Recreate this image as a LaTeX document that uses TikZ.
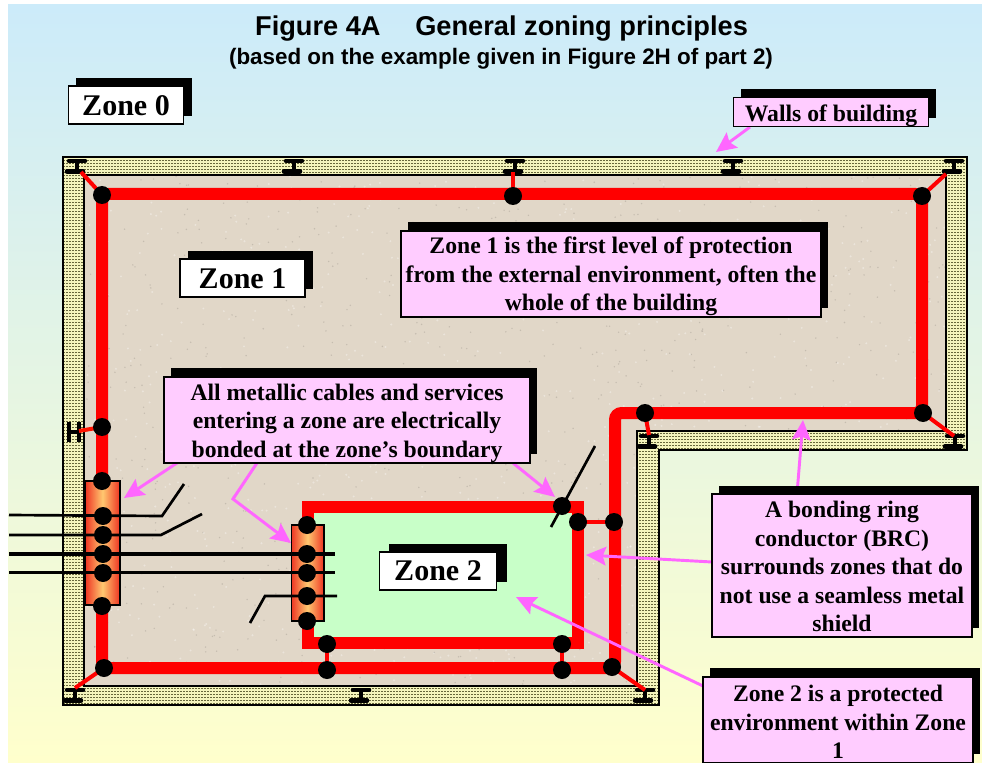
\documentclass[tikz,border=0pt]{standalone}
\usepackage{fontspec}
\setmainfont{Liberation Serif}
\setsansfont{Liberation Sans}
\usetikzlibrary{arrows.meta,shadows}
\definecolor{skytop}{HTML}{CCEBFA}
\definecolor{skybot}{HTML}{FFFFCC}
\definecolor{wallbase}{HTML}{F4F4BC}
\definecolor{walldot}{HTML}{66663A}
\definecolor{beige}{HTML}{E1D7C8}
\definecolor{zonegreen}{HTML}{C8FFC8}
\definecolor{labelpink}{HTML}{FFCCFF}
\definecolor{arrowpink}{HTML}{FF66FF}
\definecolor{barmid}{HTML}{FFC870}
\definecolor{barred}{HTML}{EE3322}
\newcommand\lstrut[1]{\rule{0pt}{#1pt}}
\tikzset{
  bond/.style={circle,fill=black,inner sep=0pt,minimum size=13.5pt},
  ring/.style={draw=red,line width=9pt,line join=miter},
  link/.style={draw=red,line width=3pt},
  cable/.style={draw=black,line width=2pt},
  barbox/.style={draw=black,line width=.8pt,left color=barred,right color=barred,middle color=barmid,inner sep=0pt},
  labelbox/.style={draw=black,line width=1.1pt,fill=labelpink,inner sep=0pt,align=center,
    font=\fontsize{17.75}{21.3}\selectfont\bfseries,
    general shadow={fill=black,shadow xshift=5.5pt,shadow yshift=6.5pt}},
  zonebox/.style={draw=black,line width=1.1pt,fill=white,inner sep=0pt,align=center,
    font=\fontsize{22.5}{26}\selectfont\bfseries},
  callout/.style={draw=arrowpink,line width=2.2pt,-{Stealth[length=15pt,width=14pt,inset=2.5pt]}},
  beam/.pic={
    \draw[black,line width=3.4pt,line cap=round] (-8,-5) -- (8,-5) (-10,5.5) -- (6,5.5);
    \draw[black,line width=3pt] (0,-5) -- (0,5.5);
  },
  sidebeam/.pic={
    \draw[black,line width=3.4pt] (-5,-10) -- (-5,10) (5,-10) -- (5,10);
    \draw[black,line width=3pt] (-5,0) -- (5,0);
  }
}
\begin{document}
\begin{tikzpicture}[x=0.75pt,y=-0.75pt]
\useasboundingbox (0,0) rectangle (982,763);
% background
\shade[top color=skytop,bottom color=skybot] (8,5) rectangle (982,763);
% walls
\def\outerwall{(63,157) -- (967,157) -- (967,450) -- (659,450) -- (659,705) -- (63,705) -- cycle}
\def\innerwall{(84,175) -- (946,175) -- (946,431) -- (637,431) -- (637,686) -- (84,686) -- cycle}
\fill[wallbase] \outerwall;
\begin{scope}
  \clip \outerwall;
  \foreach \r in {0,3,...,549}
    \draw[walldot,line width=.75pt,dash pattern=on 1.125pt off 1.125pt] (63,157.5+\r) -- (967,157.5+\r);
\end{scope}
\draw[black,line width=1.4pt] \outerwall;
\fill[beige] \innerwall;
\begin{scope}
  \clip \innerwall;
  \pgfmathsetseed{4242}
  \foreach \k in {1,...,1600} {
    \pgfmathsetmacro{\sx}{84+862*rnd}
    \pgfmathsetmacro{\sy}{175+511*rnd}
    \pgfmathsetmacro{\st}{rnd>0.5?1:0}
    \ifdim\st pt>0.5pt
      \fill[black!40!beige,opacity=.3] (\sx,\sy) circle (.6pt);
    \else
      \fill[white,opacity=.35] (\sx,\sy) circle (.8pt);
    \fi
  }
\end{scope}
\draw[black,line width=1.4pt] \innerwall;
% beams
\foreach \n/\x/\y in {b1/77/166,b2/294/166,b3/515/166,b4/733/166,b5/954/166,b6/649/441,b7/955/441,b8/75/695,b9/361/695,b10/645/695}
  \coordinate (\n) at (\x,\y);
\coordinate (b11) at (74,432);
\foreach \n in {b1,b2,b3,b4,b5,b6,b7,b8,b9,b10}
  \pic at (\n) {beam};
\pic at (b11) {sidebeam};
% bond positions
\foreach \n/\x/\y in {
  n1/102/195,n2/513/196,n3/922/196,n4/923/413,
  m1/102/427,m2/102/481,m3/103/516,m4/103/535,m5/103/554,m6/103/573,m7/102/606,n5/104/668,
  p1/307/525,p2/307/554,p3/307/573,p4/307/596,p5/307/621,
  q1/327/644,q2/327/670,q3/562/506,q4/578/522,q5/614/522,q6/562/644,q7/562/670,q8/612/667,q9/645/413}
  \coordinate (\n c) at (\x,\y);
% ring corners
\coordinate (r1) at (102,194);
\coordinate (r2) at (922,194);
\coordinate (r3) at (922,413);
\coordinate (r4) at (615,413);
\coordinate (r5) at (615,668);
\coordinate (r6) at (102,668);
\coordinate (z2tl) at (308,507);
\coordinate (z2tr) at (578,507);
\coordinate (z2br) at (578,643);
\coordinate (z2bl) at (308,643);
% zone 2
\fill[zonegreen] (z2tl) rectangle (z2br);
\draw[ring] (z2tl) -- (z2tr) -- (z2br) -- (z2bl) -- cycle;
% zone 1 ring
\draw[ring,rounded corners=5pt] (r1) -- (r2) -- (r3) -- (r4) -- (r5) -- (r6) -- cycle;
% bonding bars
\node[barbox,minimum width=26.2pt,minimum height=93pt] (bar1) at (102.5,543) {};
\node[barbox,minimum width=24.7pt,minimum height=72pt] (bar2) at (307.5,573) {};
% bonding links
\coordinate (t1) at (81,172);
\coordinate (t3) at (946,174);
\coordinate (t2) at (513,172);
\coordinate (t11) at (79,431);
\coordinate (t5) at (75,688);
\coordinate (t4) at (954,436);
\coordinate (t9) at (649,435);
\coordinate (t8) at (645,690);
\draw[link] (n1c) -- (t1);
\draw[link] (n3c) -- (t3);
\draw[link] (n2c) -- (t2);
\draw[draw=red!85!orange,line width=3pt] (m1c) -- (t11);
\draw[link] (n5c) -- (t5);
\draw[link] (n4c) -- (t4);
\draw[link] (q9c) -- (t9);
\draw[link] (q8c) -- (t8);
\draw[link] (q1c) -- (q2c);
\draw[link] (q6c) -- (q7c);
\draw[link] (q4c) -- (q5c);
% cable end points
\coordinate (c1a) at (9,515); \coordinate (c1b) at (162,516); \coordinate (c1c) at (184,484);
\coordinate (c2a) at (9,535); \coordinate (c2b) at (161,535); \coordinate (c2c) at (202,514);
\coordinate (c3a) at (9,554); \coordinate (c3b) at (335,554);
\coordinate (c4a) at (9,572.5); \coordinate (c4b) at (335,572.5);
\coordinate (c5a) at (250,623); \coordinate (c5b) at (265,596); \coordinate (c5c) at (337,596);
\coordinate (c6a) at (551,527); \coordinate (c6b) at (595,446);
% bonds
\foreach \n in {n1,n2,n3,n4,m1,m2,m3,m4,m5,m6,m7,n5,p1,p2,p3,p4,p5,q1,q2,q3,q4,q5,q6,q7,q8,q9}
  \node[bond] (\n) at (\n c) {};
% cables
\draw[cable] (c1a) -- (c1b) -- (c1c);
\draw[cable] (c2a) -- (c2b) -- (c2c);
\draw[cable,line width=2.8pt] (c3a) -- (c3b);
\draw[cable] (c4a) -- (c4b);
\draw[cable] (c5a) -- (c5b) -- (c5c);
\draw[cable] (c6a) -- (c6b);
% title
\node[font=\sffamily\bfseries\fontsize{20.4}{24}\selectfont] (title) at (501.5,28.5) {Figure 4A\hspace{1em} General zoning principles};
\node[font=\sffamily\bfseries\fontsize{16.8}{20}\selectfont] (subtitle) at (501,59) {(based on the example given in Figure 2H of part 2)};
% zone labels
\node[zonebox,minimum width=86.5pt,minimum height=28.5pt,general shadow={fill=black,shadow xshift=6pt,shadow yshift=6pt}] (zone0) at (126,105) {\lstrut{16}Zone 0};
\node[zonebox,minimum width=93.5pt,minimum height=28.5pt,general shadow={fill=black,shadow xshift=6pt,shadow yshift=6pt}] (zone1) at (242.5,278) {\lstrut{16}Zone 1};
\node[zonebox,minimum width=88pt,minimum height=28.5pt,general shadow={fill=black,shadow xshift=7.5pt,shadow yshift=6pt}] (zone2) at (438,571) {Zone 2};
% callout ends
\coordinate (swalls) at (750,127);
\coordinate (tipwalls) at (716,152);
\coordinate (sbar1) at (177,463);
\coordinate (tipbar1) at (124,498);
\coordinate (sbar2) at (257,463);
\coordinate (kink) at (233,499);
\coordinate (tipbar2) at (291,543);
\coordinate (sq3) at (513,463);
\coordinate (tipq3) at (555,497);
\coordinate (sring) at (797,494);
\coordinate (tipring) at (803,420);
\coordinate (sz2ring) at (712,562);
\coordinate (tipz2ring) at (586,555);
\coordinate (sz2) at (703,686);
\coordinate (tipz2) at (516,597);
\draw[callout] (swalls) -- (tipwalls);
\draw[callout] (sbar1) -- (tipbar1);
\draw[callout] (sbar2) -- (kink) -- (tipbar2);
\draw[callout] (sq3) -- (tipq3);
\draw[callout] (sring) -- (tipring);
\draw[callout] (sz2ring) -- (tipz2ring);
\draw[callout] (sz2) -- (tipz2);
% label boxes
\node[labelbox,minimum width=146.5pt,minimum height=22pt] (walls) at (831,112) {\lstrut{17.5}Walls of building};
\node[labelbox,minimum width=315pt,minimum height=64.5pt] (z1text) at (611,274)
  {\lstrut{16.5}Zone 1 is the first level of protection\\from the external environment, often the\\whole of the building};
\node[labelbox,minimum width=274.5pt,minimum height=64.5pt] (all) at (347,420)
  {\lstrut{17}All metallic cables and services\\entering a zone are electrically\\bonded at the zone’s boundary};
\node[labelbox,minimum width=195pt,minimum height=107pt] (brc) at (842,565.5)
  {\lstrut{14}A bonding ring\\conductor (BRC)\\surrounds zones that do\\not use a seamless metal\\shield};
\node[labelbox,minimum width=202.5pt,minimum height=64.5pt] (z2text) at (838,720)
  {\lstrut{15}Zone 2 is a protected\\environment within Zone\\1};
\end{tikzpicture}
\end{document}
